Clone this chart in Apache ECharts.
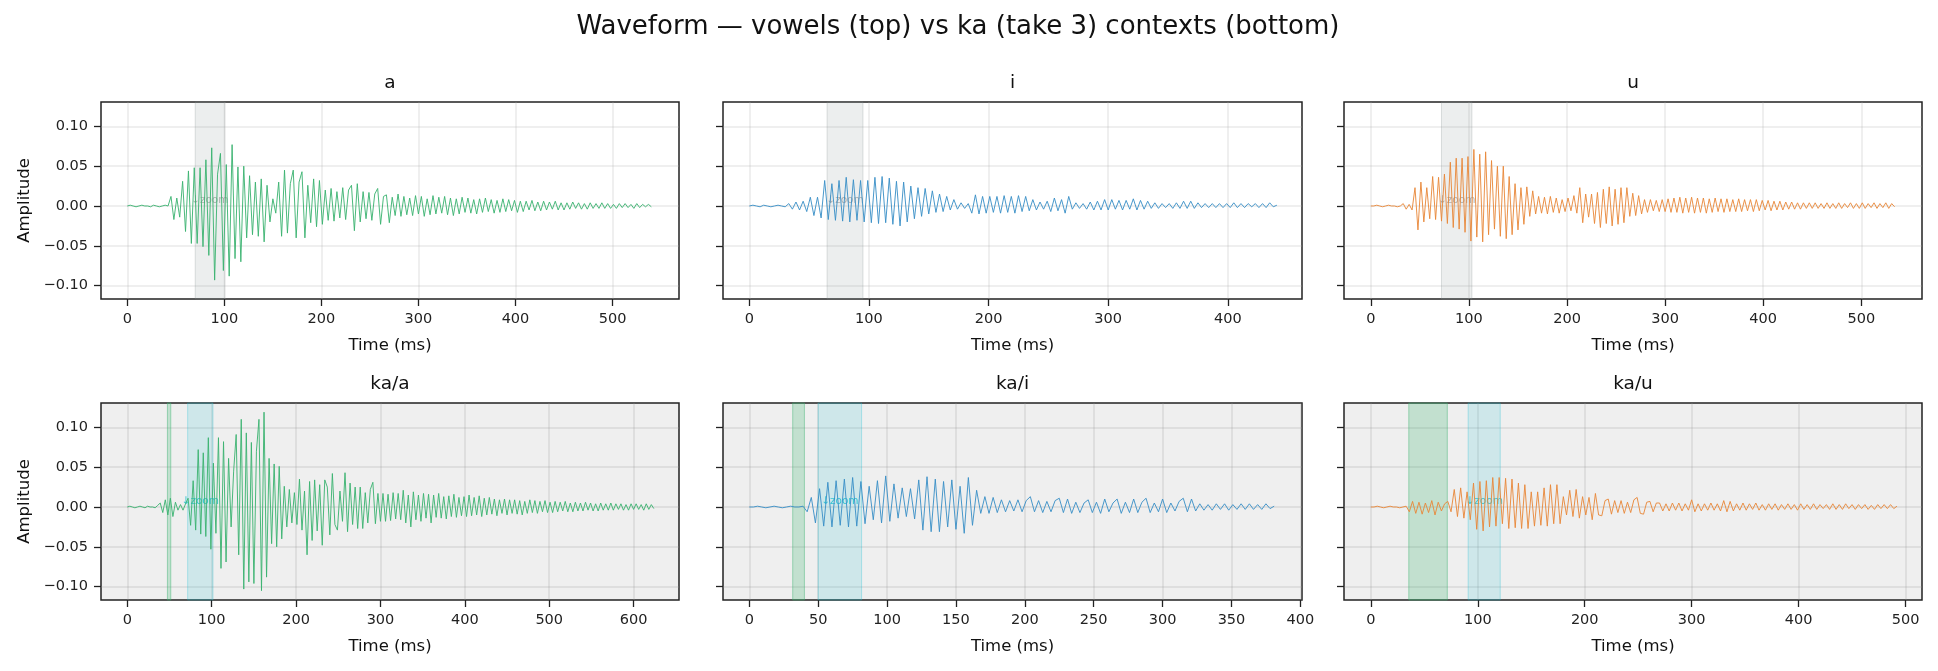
<!DOCTYPE html>
<html>
<head>
<meta charset="utf-8">
<title>Waveform</title>
<script src="https://cdn.jsdelivr.net/npm/echarts@6/dist/echarts.min.js"></script>
<style>
  html, body { margin: 0; padding: 0; background: #fff; }
  #main { width: 1938px; height: 671px; }
</style>
</head>
<body>
<div id="main"></div>
<script>
// every trace is sampled every STEP_MS starting at 0 ms, amplitudes are in thousandths
const STEP_MS = 3;

const panelTitles = ['a', 'i', 'u', 'ka/a', 'ka/i', 'ka/u'];

const ampA = [0, 1, 0, -1, 0, 1, 0, 0, -1, 1, 0, -1, 0, 1, 0,
  12, -17, 10, -14, 31, -32, 44, -47, 48, -47,
  48, -51, 58, -62, 73, -93, 40, 66, -81, 52,
  -88, 77, -66, 49, -70, 50, -40, 38, -36, 30,
  -38, 34, -45, 26, -20, 9, -9, 30, -38, 45,
  -34, 28, 45, -40, 30, 43, -40, 26, -21, 34,
  -26, 32, -23, 20, -18, 22, -19, 18, -15, 23,
  -17, 20, 26, -31, 28, -20, 18, -16, 17, -18,
  15, 22, -23, 12, 14, -21, 11, -12, 15, -13,
  12, -11, 10, -12, 13, -10, 12, -13, 9, -11,
  13, -10, 11, -9, 12, -11, 10, -12, 9, -10,
  11, -8, 10, -9, 8, -10, 9, -8, 10, -7,
  8, -9, 7, -8, 9, -7, 8, -6, 7, -8,
  6, -7, 6, -5, 7, -6, 5, -6, 6, -5,
  5, -4, 6, -5, 4, -5, 4, -4, 5, -3,
  4, -4, 3, -4, 4, -3, 3, -3, 4, -3,
  3, -3, 2, -3, 3, -2, 3, -2, 2, -3,
  3, -2, 2, -1, 2, -1];

const ampI = [0, 1, 0, -1, 1, 0, -1, 0, 1, 0,
  -1, 3, -4, 5, -5, 6, -7, 11, -12, 11,
  -15, 32, -17, 28, -18, 32, -19, 36, -20, 33,
  -18, 32, -20, 32, -21, 36, -22, 37, -21, 35,
  -23, 31, -25, 30, -20, 25, -16, 23, -13, 22,
  -10, 19, -8, 15, -7, 12, -5, 8, -4, 4,
  -3, 3, -9, 14, -10, 12, -9, 12, -8, 12,
  -9, 13, -8, 12, -9, 13, -7, 12, -6, 8,
  -5, 5, -4, 6, -7, 10, -6, 8, -9, 12,
  -4, 4, -3, 3, -4, 5, -5, 6, -5, 8,
  -5, 8, -4, 7, -5, 7, -4, 9, -5, 7,
  -4, 6, -3, 4, -3, 3, -2, 3, -3, 4,
  -3, 6, -3, 6, -3, 4, -2, 3, -2, 3,
  -2, 3, -2, 3, -2, 4, -2, 3, -2, 3,
  -1, 3, -2, 3, -2, 4, -1, 1];

const ampU = [0, 0, 1, 0, -1, 0, 1, 0, 0, -1, 0,
  3, -4, 2, -5, 23, -30, 30, -20, 23, -16,
  37, -17, 36, -19, 40, -22, 55, -27, 60, -29,
  60, -33, 62, -44, 71, -39, 65, -45, 68, -36,
  57, -29, 50, -38, 50, -41, 37, -36, 28, -30,
  23, -23, 24, -13, 19, -10, 12, -9, 11, -10,
  12, -8, 10, -9, 8, -7, 10, -6, 13, -9,
  23, -21, 15, -14, 15, -22, 17, -27, 21, -22,
  24, -25, 21, -23, 23, -21, 23, -13, 16, -12,
  13, -10, 8, -8, 8, -6, 7, -7, 8, -7,
  9, -8, 10, -8, 11, -9, 10, -8, 11, -9,
  10, -8, 10, -9, 9, -8, 10, -7, 9, -8,
  9, -7, 8, -7, 9, -7, 8, -6, 8, -7,
  8, -6, 7, -5, 7, -6, 6, -5, 6, -5,
  5, -4, 5, -4, 4, -4, 4, -3, 4, -3,
  4, -3, 3, -3, 4, -3, 3, -3, 4, -3,
  3, -2, 4, -3, 3, -3, 4, -3, 3, -2,
  4, -3, 3, -2, 4, -3, 3, -1];

const ampKaA = [0, 1, 0, -1, 0, 1, 0, -1, 1, 0, 0, -1,
  2, 5, -7, 9, -10, 11, -12, 6, -4, 3,
  -4, 4, 11, -23, 33, -29, 72, -34, 68, -37,
  87, -53, 55, -33, 87, -77, 82, -69, 61, -25,
  45, 91, -60, 110, -103, 93, -94, 81, -96, 70,
  110, -105, 119, -88, 61, -46, 54, -50, 51, -40,
  26, -25, 22, -20, 18, -22, 35, -29, 20, -60,
  32, -42, 34, -30, 28, -48, 34, 25, -35, 42,
  -22, -29, 20, -18, 43, -31, 30, -22, 25, -27,
  25, -27, 18, -20, 22, 31, -21, 17, -18, 17,
  -18, 16, -17, 18, -15, 17, -16, 21, -20, 15,
  -25, 19, -16, 15, -18, 17, -14, 16, -20, 15,
  -13, 17, -14, 13, -15, 14, -12, 16, -13, 12,
  -11, 13, -12, 15, -11, 12, -10, 14, -12, 11,
  -10, 12, -9, 10, -11, 9, -8, 10, -10, 9,
  -8, 9, -9, 8, -10, 7, -8, 9, -7, 8,
  -8, 7, -6, 8, -7, 6, -7, 7, -6, 6,
  -5, 7, -6, 5, -6, 6, -5, 5, -5, 6,
  -4, 5, -5, 4, -5, 5, -4, 4, -4, 5,
  -4, 4, -3, 4, -4, 3, -4, 4, -3, 4,
  -3, 3, -4, 4, -3, 3, -2];

const ampKaI = [0, 0, 1, 0, -1, 0, 1, 0, -1, 0, 1, 0, 0, 1,
  -6, 12, -20, 23, -24, 31, -25, 33, -23, 35,
  -25, 37, -24, 32, -21, 26, -16, 33, -20, 39,
  -18, 29, -14, 24, -12, 23, -15, 34, -29, 38,
  -31, 35, -31, 32, -25, 34, -28, 26, -33, 37,
  -23, 21, -8, 13, -8, 12, -7, 9, -6, 8,
  -5, 9, -6, 8, 13, -6, 8, -7, 7, -6,
  8, 11, -7, 10, -8, 6, -7, 5, 9, -7,
  6, -8, 10, -6, 5, 10, -8, 6, -7, 10,
  -7, 6, 11, -7, 5, -6, 10, -7, 5, -5,
  7, 11, -6, 10, -5, 4, -4, 3, -4, 4,
  -3, 4, -4, 3, -3, 4, -3, 4, -3, 3,
  -3, 4, -2, 1];

const ampKaU = [0, 0, 1, 0, -1, 0, 1, 0, 0, -1, 0, 1,
  -6, 7, -8, 6, -9, 5, -7, 8, -10, 6,
  -5, 4, 7, -6, 22, -12, 24, -14, 19, -16,
  30, -28, 32, -30, 33, -25, 37, -24, 37, -21,
  36, -27, 35, -26, 30, -27, 28, -27, 19, -24,
  19, -23, 24, -24, 28, -21, 28, -21, 13, -10,
  21, -12, 22, -14, 13, -10, 12, -16, 17, -10,
  -11, 8, 10, -9, 8, -7, 8, -8, 6, -7,
  9, 12, -8, -9, 6, 7, -6, 5, 5, -5,
  4, -5, 5, -4, 5, -5, 4, -4, 9, -6,
  4, -5, 4, -4, 5, -4, 4, -5, 8, -6,
  7, -5, 4, -4, 5, -4, 4, -3, 5, -4,
  3, -4, 4, -3, 4, -4, 3, -3, 4, -3,
  3, -4, 4, -3, 3, -3, 4, -3, 3, -2,
  3, -3, 4, -3, 3, -3, 4, -2, 3, -3,
  3, -2, 3, -3, 2, -3, 3, -2, 3, -2,
  3, -2, 1];

const traces = [ampA, ampI, ampU, ampKaA, ampKaI, ampKaU];

const xLimits = [[-27.1, 568.5], [-22, 462], [-27.4, 561.9], [-31.2, 653.8], [-19.1, 401.2], [-25.1, 515.4]];
const xTicks = [
  [0, 100, 200, 300, 400, 500],
  [0, 100, 200, 300, 400],
  [0, 100, 200, 300, 400, 500],
  [0, 100, 200, 300, 400, 500, 600],
  [0, 50, 100, 150, 200, 250, 300, 350, 400],
  [0, 100, 200, 300, 400, 500]
];
const yLimits = [-0.1167, 0.1305];
const yTicks = [-0.10, -0.05, 0, 0.05, 0.10];

// zoom window (grey on top, cyan at the bottom) and burst window (green)
const zoomBands = [[70, 100], [65, 95], [72, 103], [71.5, 101.5], [50, 81.5], [91, 121]];
const burstBands = [null, null, null, [47.5, 51.5], [31.5, 40], [35.5, 71.5]];

const lineColors = ['#3cb371', '#3a8fc7', '#e8883a'];

const GRID_LEFT = [101, 723, 1344];
const GRID_W = [578, 579, 578];
const ROW_TOP = [102, 403];
const ROW_H = 197;
const FONT = 'DejaVu Sans';

function toPoints(amps) {
  return amps.map((v, i) => [i * STEP_MS, v / 1000]);
}

function yLabel(v) {
  return (v < 0 ? '\u2212' : '') + Math.abs(v).toFixed(2);
}

const grids = [], xAxes = [], yAxes = [], series = [];
const titles = [{
  text: 'Waveform \u2014 vowels (top) vs ka (take 3) contexts (bottom)',
  left: 958, top: 14, textAlign: 'center', padding: 0,
  textStyle: { fontFamily: FONT, fontSize: 26, fontWeight: 'normal', color: '#111', lineHeight: 26 }
}];

for (let p = 0; p < 6; p++) {
  const row = Math.floor(p / 3), col = p % 3;
  const gridLine = row ? 'rgba(150,150,150,0.25)' : 'rgba(170,170,170,0.25)';

  grids.push({
    left: GRID_LEFT[col], top: ROW_TOP[row], width: GRID_W[col], height: ROW_H,
    show: true, borderColor: '#222', borderWidth: 1.5,
    backgroundColor: row ? '#efefef' : '#ffffff'
  });

  titles.push({
    text: panelTitles[p],
    left: GRID_LEFT[col] + GRID_W[col] / 2, top: ROW_TOP[row] - 28,
    textAlign: 'center', padding: 0,
    textStyle: { fontFamily: FONT, fontSize: 18.5, fontWeight: 'normal', color: '#111', lineHeight: 19 }
  });

  xAxes.push({
    type: 'value', gridIndex: p, min: xLimits[p][0], max: xLimits[p][1],
    splitNumber: p === 4 ? 8 : 5,
    name: 'Time (ms)', nameLocation: 'middle', nameGap: 38,
    nameTextStyle: { fontFamily: FONT, fontSize: 16.5, color: '#111' },
    axisLine: { show: false, onZero: false },
    axisTick: { show: true, inside: false, length: 7, customValues: xTicks[p], lineStyle: { color: '#222', width: 1.3 } },
    axisLabel: { fontFamily: FONT, fontSize: 14.5, color: '#222', margin: 13, customValues: xTicks[p] },
    splitLine: { show: true, lineStyle: { color: gridLine, width: 1.5 } }
  });

  yAxes.push({
    type: 'value', gridIndex: p, min: yLimits[0], max: yLimits[1], splitNumber: 5,
    name: col === 0 ? 'Amplitude' : '', nameLocation: 'middle', nameGap: 68, nameRotate: 90,
    nameTextStyle: { fontFamily: FONT, fontSize: 16.5, color: '#111' },
    axisLine: { show: false, onZero: false },
    axisTick: { show: true, inside: false, length: 7, customValues: yTicks, lineStyle: { color: '#222', width: 1.3 } },
    axisLabel: { show: col === 0, fontFamily: FONT, fontSize: 14.5, color: '#222', margin: 13, customValues: yTicks, formatter: yLabel },
    splitLine: { show: true, lineStyle: { color: gridLine, width: 1.5 } }
  });

  // shaded windows sit under the trace
  if (burstBands[p]) {
    series.push({
      type: 'line', xAxisIndex: p, yAxisIndex: p, data: [], z: 1, silent: true,
      markArea: {
        silent: true,
        itemStyle: { color: 'rgba(60,179,113,0.25)', borderColor: 'rgba(60,179,113,0.45)', borderWidth: 1 },
        label: { show: false },
        data: [[{ xAxis: burstBands[p][0] }, { xAxis: burstBands[p][1] }]]
      }
    });
  }
  series.push({
    type: 'line', xAxisIndex: p, yAxisIndex: p, data: [], z: 1, silent: true,
    markArea: {
      silent: true,
      itemStyle: row
        ? { color: 'rgba(23,190,207,0.15)', borderColor: 'rgba(23,190,207,0.3)', borderWidth: 1 }
        : { color: 'rgba(127,140,141,0.15)', borderColor: 'rgba(127,140,141,0.25)', borderWidth: 1 },
      label: {
        show: true, position: 'inside', formatter: '\u2193zoom',
        fontFamily: FONT, fontSize: 10.5,
        color: row ? 'rgba(23,190,207,0.85)' : 'rgba(128,128,128,0.6)'
      },
      data: [[{ xAxis: zoomBands[p][0] }, { xAxis: zoomBands[p][1] }]]
    }
  });

  series.push({
    type: 'line', xAxisIndex: p, yAxisIndex: p, z: 3, silent: true,
    data: toPoints(traces[p]),
    showSymbol: false, symbol: 'none',
    lineStyle: { color: lineColors[col], width: 1, opacity: 0.92 }
  });
}

const chart = echarts.init(document.getElementById('main'), null, { renderer: 'canvas' });
chart.setOption({
  animation: false,
  backgroundColor: '#ffffff',
  textStyle: { fontFamily: FONT },
  title: titles,
  grid: grids,
  xAxis: xAxes,
  yAxis: yAxes,
  series: series
});
</script>
</body>
</html>
